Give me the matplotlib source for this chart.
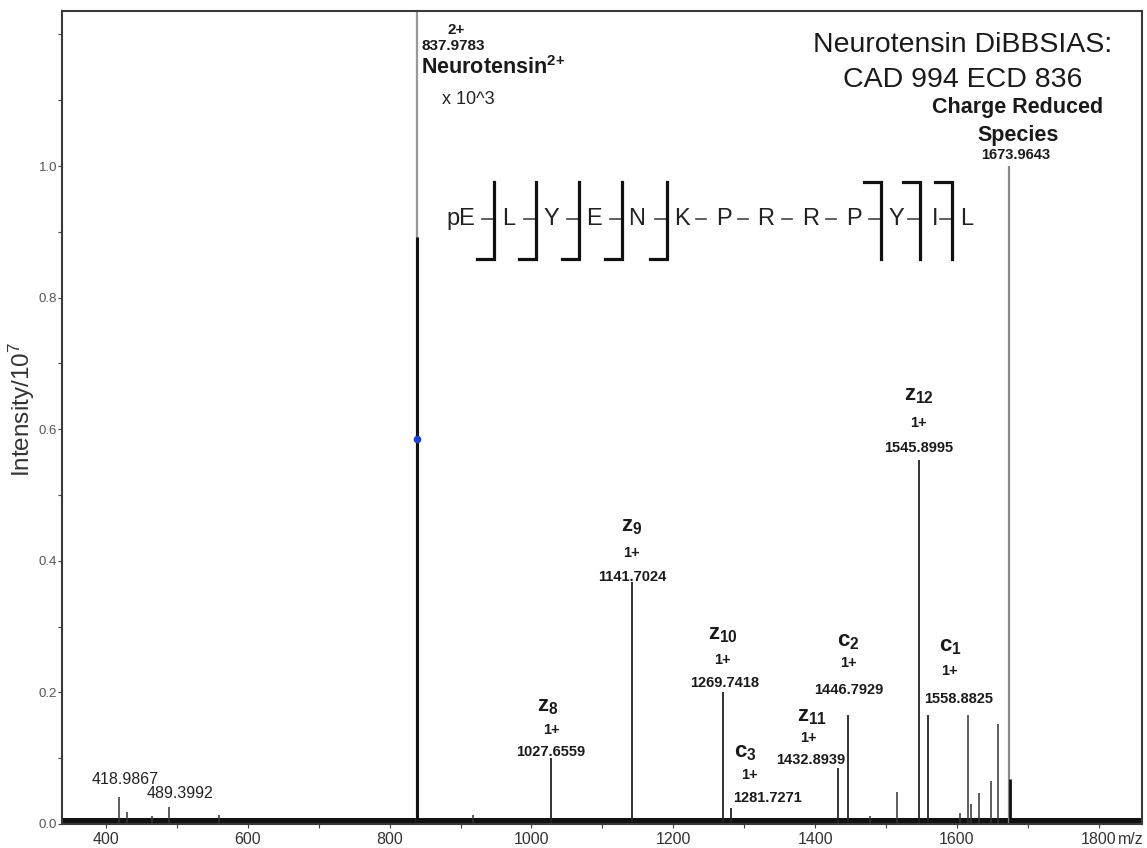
import matplotlib.pyplot as plt
import numpy as np

plt.rcParams.update({
    "font.family": ["Liberation Sans", "DejaVu Sans"],
    "mathtext.fontset": "custom",
    "mathtext.rm": "Liberation Sans",
    "mathtext.bf": "Liberation Sans:bold",
    "mathtext.it": "Liberation Sans:italic",
})

# ---- data (intensity in units of 1e7) ----
precursor_mz = 837.9783
precursor_int = 0.892
precursor_dot = 0.585

reduced_mz = 1673.9643
reduced_int = 1.0
reduced_base_int = 0.068

frag_mz = [1027.6559, 1141.7024, 1269.7418, 1281.7271, 1432.8939, 1446.7929, 1545.8995, 1558.8825]
frag_int = [0.100, 0.368, 0.201, 0.024, 0.085, 0.166, 0.553, 0.166]
frag_names = [r"$\mathbf{z}_{\mathbf{8}}$", r"$\mathbf{z}_{\mathbf{9}}$", r"$\mathbf{z}_{\mathbf{10}}$",
              r"$\mathbf{c}_{\mathbf{3}}$", r"$\mathbf{z}_{\mathbf{11}}$", r"$\mathbf{c}_{\mathbf{2}}$",
              r"$\mathbf{z}_{\mathbf{12}}$", r"$\mathbf{c}_{\mathbf{1}}$"]
frag_charge = ["1+"] * 8

low_mz = [418.9867, 489.3992]
low_int = [0.041, 0.026]

other_mz = [429, 465, 559, 917, 1477, 1516, 1604, 1615, 1620, 1631, 1648, 1658]
other_int = [0.018, 0.012, 0.013, 0.014, 0.012, 0.049, 0.017, 0.166, 0.030, 0.047, 0.065, 0.152]

noise_mz = [338, 1861]
noise_int = [0.009, 0.009]

residues = ["pE", "L", "Y", "E", "N", "K", "P", "R", "R", "P", "Y", "I", "L"]
c_cuts = [1, 2, 3, 4, 5]      # bond before residue index
z_cuts = [10, 11, 12]

x_ticks = [400, 600, 800, 1000, 1200, 1400, 1600, 1800]
y_ticks = [0.0, 0.2, 0.4, 0.6, 0.8, 1.0]

# ---- layout ----
W, H = 1147, 848
fig = plt.figure(figsize=(W / 100, H / 100), dpi=100)
ax = fig.add_axes([62 / W, 24 / H, 1080 / W, 813 / H])
ov = fig.add_axes([0, 0, 1, 1], zorder=5)
ov.set_xlim(0, W)
ov.set_ylim(H, 0)
ov.axis("off")
ov.patch.set_alpha(0)

ink = "#1a1a1a"

ax.fill_between(noise_mz, 0, noise_int, color="#111111", lw=0)
ax.vlines(other_mz, 0, other_int, color="#333333", lw=1.1)
ax.vlines(low_mz, 0, low_int, color="#333333", lw=1.1)
ax.vlines(frag_mz, 0, frag_int, color="#222222", lw=1.3)
ax.vlines(reduced_mz, 0, reduced_int, color="#8a8a8a", lw=1.6)
ax.vlines(reduced_mz + 1, 0, reduced_base_int, color="#111111", lw=2.0)
ax.vlines(precursor_mz, 0, 2, color="#9a9a9a", lw=1.6)
ax.vlines(precursor_mz, 0, precursor_int, color="#111111", lw=2.2)
ax.plot([precursor_mz], [precursor_dot], "o", color="#1f3fcf", ms=4.5, zorder=4)

ax.set_xlim(338, 1861)
ax.set_ylim(0, 1.2356)
ax.set_xticks(x_ticks)
ax.set_xticklabels([str(t) for t in x_ticks])
ax.set_xticks(np.arange(400, 1900, 100), minor=True)
ax.set_yticks(y_ticks)
ax.set_yticklabels([f"{t:.1f}" for t in y_ticks])
ax.set_yticks(np.arange(0.1, 1.25, 0.1), minor=True)
ax.tick_params(axis="x", which="both", direction="out", length=3, width=0.8, color="#444444",
               labelsize=11.5, labelcolor="#333333", pad=3)
ax.tick_params(axis="y", which="both", direction="out", length=3, width=0.8, color="#444444",
               labelsize=9.5, labelcolor="#555555", pad=0.5)
for s in ax.spines.values():
    s.set_color("#3a3a3a")
    s.set_linewidth(1.5)

ov.text(1118, 839, "m/z", ha="left", va="center", fontsize=11.5, color="#333333")
ov.text(22, 410, r"Intensity/10$^7$", rotation=90, ha="center", va="center", fontsize=17.5, color="#333333")

# titles
ov.text(963, 45, "Neurotensin DiBBSIAS:", ha="center", va="center", fontsize=20.5, color=ink)
ov.text(963, 80, "CAD 994 ECD 836", ha="center", va="center", fontsize=20.5, color=ink)
ov.text(1018, 108, "Charge Reduced", ha="center", va="center", fontsize=15.5, fontweight="bold", color=ink)
ov.text(1018, 135, "Species", ha="center", va="center", fontsize=15.5, fontweight="bold", color=ink)
ov.text(1016, 155, f"{reduced_mz:.4f}", ha="center", va="center", fontsize=10.5, fontweight="bold", color=ink)

# precursor labels
ov.text(456, 30, "2+", ha="center", va="center", fontsize=11, fontweight="bold", color=ink)
ov.text(421, 46, f"{precursor_mz:.4f}", ha="left", va="center", fontsize=11, fontweight="bold", color=ink)
ov.text(421, 68, r"$\mathbf{Neurotensin}^{\mathbf{2{+}}}$", ha="left", va="center", fontsize=15.5, color=ink)
ov.text(442, 99, "x 10^3", ha="left", va="center", fontsize=13, color="#222222")

# fragment labels: pixel offsets from the peak top
# (dx name, dx charge, dx m/z, dy name, dy charge, dy m/z)
label_offsets = [(-3, 0, 0, 52, 28, 6), (0, 0, 0, 55, 29, 5), (0, 0, 2, 57, 32, 9),
                 (14, 18, 36, 56, 33, 10), (-26, -30, -28, 52, 30, 8), (0, 0, 0, 73, 52, 25),
                 (0, 0, 0, 65, 37, 12), (23, 22, 31, 68, 44, 16)]
for mz, h, name, ch, off in zip(frag_mz, frag_int, frag_names, frag_charge, label_offsets):
    dxn, dxc, dxm, dyn, dyc, dym = off
    ax.annotate(f"{mz:.4f}", (mz, h), xytext=(dxm, dym), textcoords="offset pixels",
                ha="center", va="center", fontsize=10.5, fontweight="bold", color=ink)
    ax.annotate(ch, (mz, h), xytext=(dxc, dyc), textcoords="offset pixels",
                ha="center", va="center", fontsize=10.5, fontweight="bold", color=ink)
    ax.annotate(name, (mz, h), xytext=(dxn, dyn), textcoords="offset pixels",
                ha="center", va="center", fontsize=16, color=ink)

for mz, h, (dx, dy) in zip(low_mz, low_int, [(6, 10), (11, 6)]):
    ax.annotate(f"{mz:.4f}", (mz, h), xytext=(dx, dy), textcoords="offset pixels",
                ha="center", va="bottom", fontsize=11.5, color="#222222")

# sequence with cleavage brackets
res_x = [461, 509, 551, 594, 637, 682, 724, 766, 811, 854, 896, 935, 967]
seq_y = 219
for r, x in zip(residues, res_x):
    ov.text(x, seq_y, r, ha="center", va="center", fontsize=17, color="#222222")
for b in range(1, len(residues)):
    if b in c_cuts or b in z_cuts:
        bx = res_x[b] - 15
        ov.plot([bx - 12, bx], [seq_y, seq_y], color="#444444", lw=1.2)
        if b in c_cuts:
            ov.plot([bx - 17, bx, bx], [259, 259, 182], color="#111111", lw=2.3, solid_joinstyle="miter")
        else:
            ov.plot([bx - 17, bx, bx], [182, 182, 259], color="#111111", lw=2.3, solid_joinstyle="miter")
    else:
        mx = (res_x[b - 1] + res_x[b]) / 2 - 2
        ov.plot([mx - 5, mx + 5], [seq_y, seq_y], color="#444444", lw=1.2)

fig.savefig("out.png", dpi=100)
